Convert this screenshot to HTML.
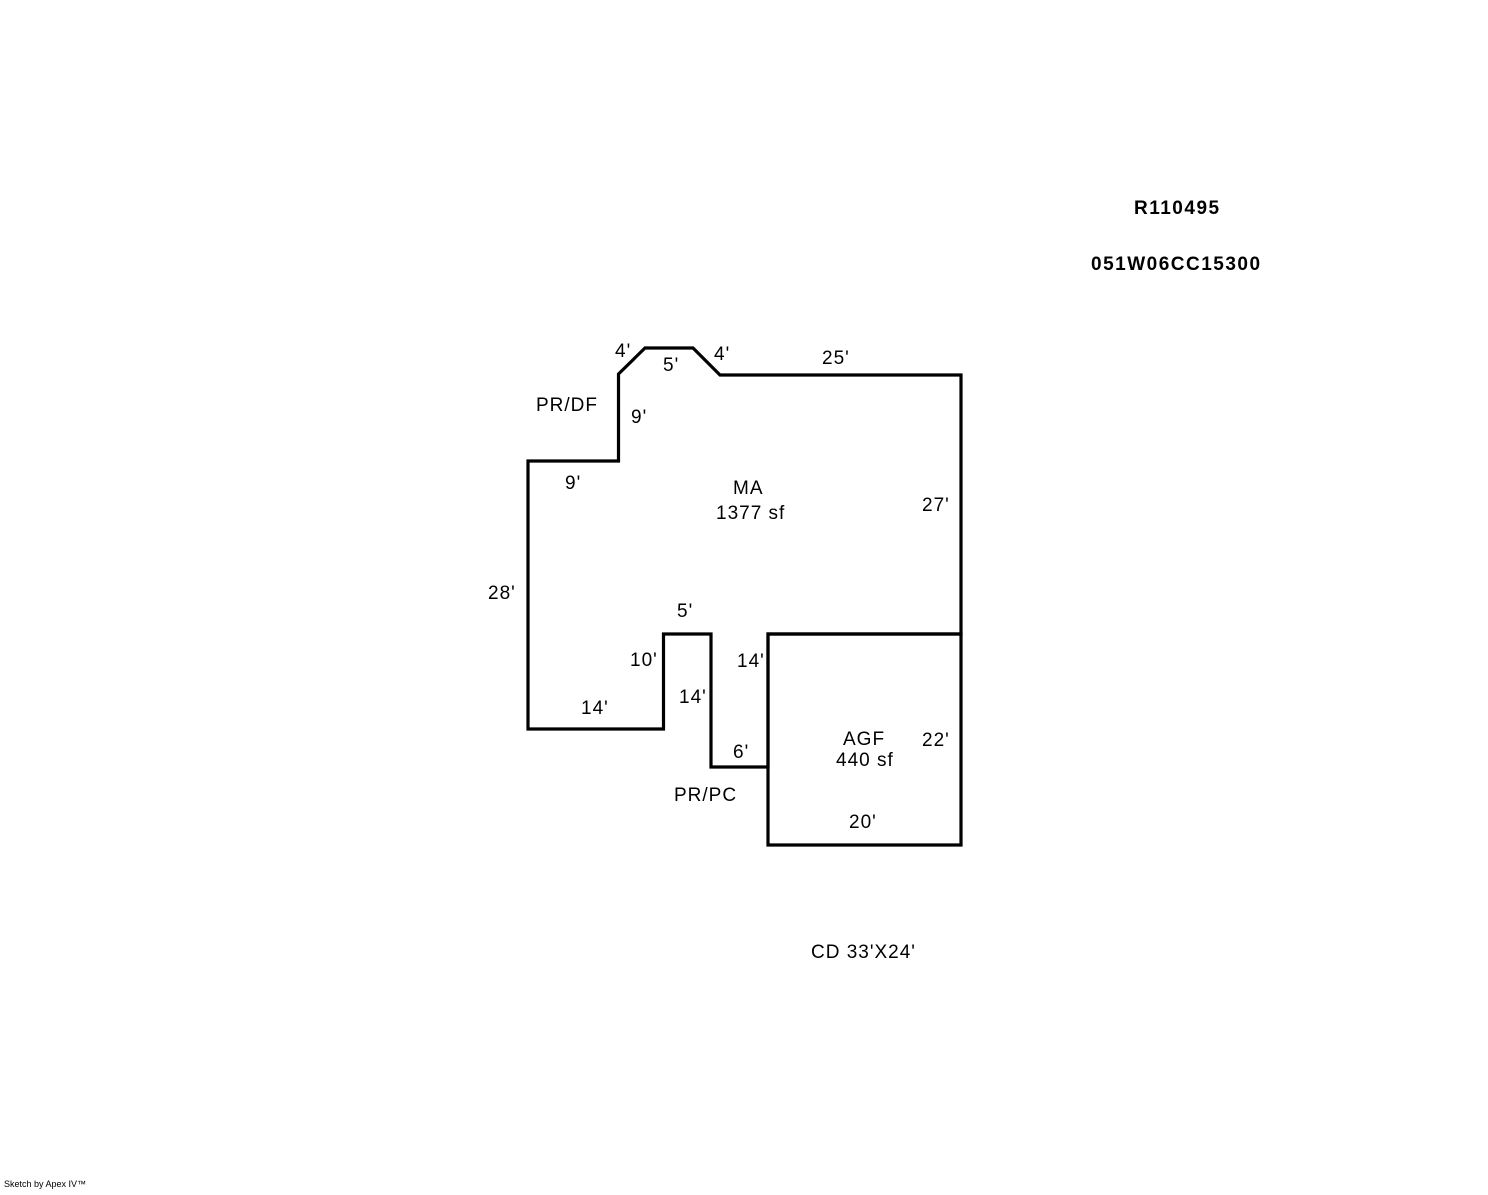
<!DOCTYPE html>
<html><head><style>
html,body{margin:0;padding:0;background:#fff;}
svg text{font-family:"Liberation Sans",Arial,sans-serif;font-size:19px;letter-spacing:1px;fill:#000;}
</style></head><body>
<svg width="1488" height="1190" viewBox="0 0 1488 1190" xmlns="http://www.w3.org/2000/svg">
<g fill="none" stroke="#000" stroke-width="3.2" stroke-linejoin="miter">
<polygon points="720,375 961,375 961,634 768,634 768,767 711,767 711,634 663.5,634 663.5,729 528,729 528,461 618.5,461 618.5,374 645,348 693,348"/>
<polygon points="768,634 961,634 961,845 768,845"/>
</g>
<text x="1134" y="214" style="font-weight:bold;letter-spacing:1.5px">R110495</text>
<text x="1091" y="270" style="font-weight:bold;letter-spacing:1.5px">051W06CC15300</text>
<text x="615" y="357">4'</text>
<text x="714" y="360">4'</text>
<text x="663" y="371">5'</text>
<text x="822" y="364">25'</text>
<text x="536" y="411">PR/DF</text>
<text x="631" y="423">9'</text>
<text x="565" y="489">9'</text>
<text x="733" y="494">MA</text>
<text x="716" y="519">1377 sf</text>
<text x="922" y="511">27'</text>
<text x="488" y="599">28'</text>
<text x="677" y="617">5'</text>
<text x="630" y="666">10'</text>
<text x="737" y="667">14'</text>
<text x="679" y="703">14'</text>
<text x="581" y="714">14'</text>
<text x="733" y="758">6'</text>
<text x="843" y="745">AGF</text>
<text x="836" y="766">440 sf</text>
<text x="922" y="746">22'</text>
<text x="674" y="801">PR/PC</text>
<text x="849" y="828">20'</text>
<text x="811" y="958">CD 33'X24'</text>
<text x="4" y="1187" style="font-size:9px;letter-spacing:0">Sketch by Apex IV™</text>
</svg>
</body></html>
